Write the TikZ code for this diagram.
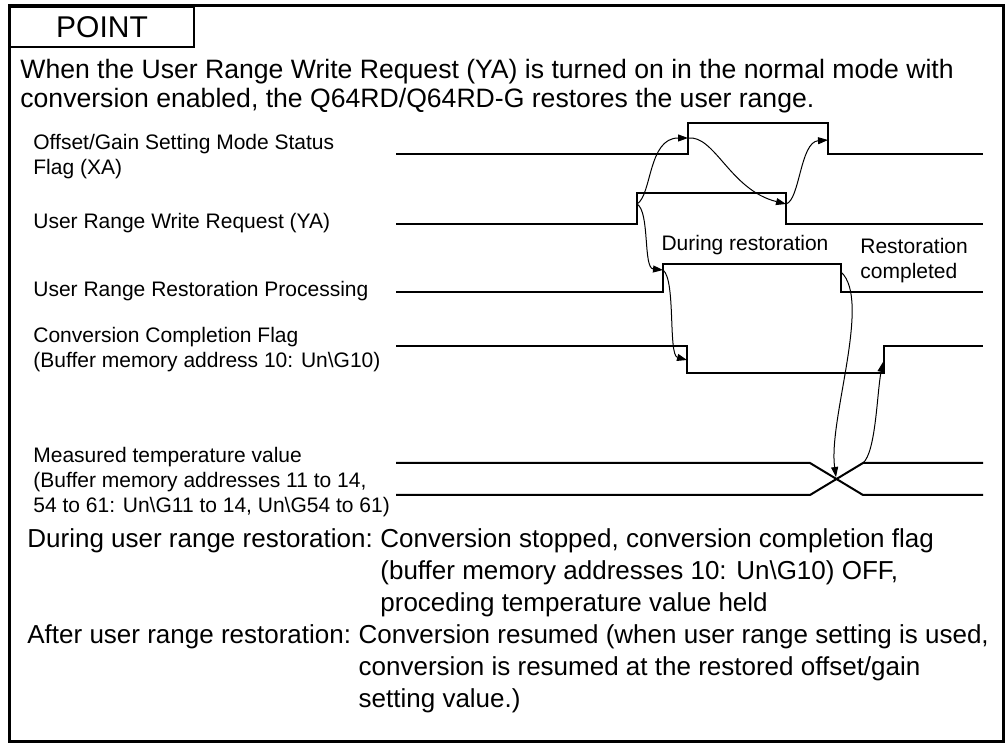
\documentclass[tikz,border=0pt]{standalone}
\usepackage{fontspec}
\setmainfont{Liberation Sans}
\usetikzlibrary{arrows.meta,positioning}
\begin{document}
\begin{tikzpicture}[x=0.5pt,y=-0.5pt,
  bodytext/.style={anchor=west,inner sep=0pt,align=left,font=\fontsize{13}{16}\selectfont},
  sigtext/.style={anchor=west,inner sep=0pt,align=left,font=\fontsize{10.5}{12.5}\selectfont},
  sig/.style={line width=1pt},
  flow/.style={->,>={Triangle[length=5pt,width=3.5pt]},line width=0.5pt}]
\useasboundingbox (0,0) rectangle (1008,743);
% frame and title
\draw [line width=1.5pt] (9,6) rectangle (1003,741);
\node(point) [draw,line width=1pt,anchor=north west,inner sep=0pt,minimum width=92pt,minimum height=20pt,font=\fontsize{15}{16}\selectfont] at (9,6) {POINT};
\node(intro) [bodytext,font=\fontsize{13.3}{14.5}\selectfont] at (20,86.5) {When the User Range Write Request (YA) is turned on in the normal mode with\\conversion enabled, the Q64RD/Q64RD-G restores the user range.};
% signal names
\node(xalab) [sigtext] at (33,157) {Offset/Gain Setting Mode Status\\Flag (XA)};
\node(yalab) [sigtext] at (33,223) {User Range Write Request (YA)};
\node(restlab) [sigtext] at (33,291) {User Range Restoration Processing};
\node(flaglab) [sigtext] at (33,350) {Conversion Completion Flag\\(Buffer memory address 10: Un\textbackslash G10)};
\node(templab) [sigtext] at (33,482) {Measured temperature value\\(Buffer memory addresses 11 to 14,\\54 to 61: Un\textbackslash G11 to 14, Un\textbackslash G54 to 61)};
\node(during) [sigtext,anchor=center] at (745,245) {During restoration};
\node(done) [sigtext] at (860,261) {Restoration\\completed};
% waveforms
\draw [sig] (396,154) -- (688,154) |- (828,123) |- (983,154);
\draw [sig] (396,224) -- (637,224) |- (786,193) |- (983,224);
\draw [sig] (396,292) -- (663,292) |- (841,264) |- (983,292);
\draw [sig] (396,346) -- (687,346) |- (884,373) |- (983,346);
\draw [sig] (396,463) -- (810,463) -- (863,495) -- (983,495);
\draw [sig] (396,495) -- (810,495) -- (863,463) -- (983,463);
% edges
\coordinate (yaup) at (637,204);
\coordinate (xaup) at (688,138);
\coordinate (yadown) at (786,204);
\coordinate (xadown) at (828,140);
\coordinate (restup) at (663,270);
\coordinate (restdown) at (841,272);
\coordinate (flagdown) at (687,360);
\coordinate (flagup) at (883,362);
\coordinate (tempx) at (836,477);
\coordinate (tempup) at (863,463);
\draw [flow] (yaup) .. controls (652,195) and (648,138) .. (xaup);
\draw [flow] (yaup) .. controls (650,212) and (643,268) .. (restup);
\draw [flow] (xaup) .. controls (715,135) and (730,190) .. (yadown);
\draw [flow] (yadown) .. controls (800,200) and (800,142) .. (xadown);
\draw [flow] (restup) .. controls (676,280) and (668,355) .. (flagdown);
\draw [flow] (restdown) .. controls (872,300) and (828,420) .. (tempx);
\draw [flow] (tempup) .. controls (876,452) and (877,392) .. (flagup);
% notes
\node(durnote) [bodytext] at (27,541) {During user range restoration:};
\node(durtext) [bodytext,anchor=north west] at ([xshift=3.4pt]durnote.north east) {Conversion stopped, conversion completion flag\\(buffer memory addresses 10: Un\textbackslash G10) OFF,\\proceding temperature value held};
\node(aftnote) [bodytext] at (27,637) {After user range restoration:};
\node(afttext) [bodytext,anchor=north west] at ([xshift=3.4pt]aftnote.north east) {Conversion resumed (when user range setting is used,\\conversion is resumed at the restored offset/gain\\setting value.)};
\end{tikzpicture}
\end{document}
